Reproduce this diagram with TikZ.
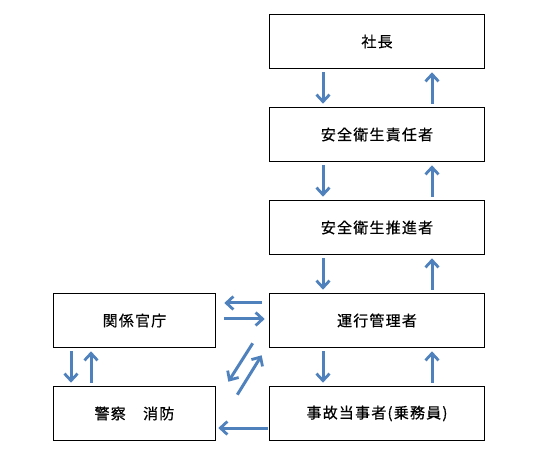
\documentclass[tikz,border=0pt]{standalone}
\usepackage{fontspec}
\newfontfamily\jp[LetterSpace=8,FakeBold=0.6]{Noto Sans CJK JP}
\usetikzlibrary{arrows.meta}
\definecolor{arrowblue}{HTML}{4F81BD}
\tikzset{
  box/.style={draw, line width=1.6pt, minimum width=215pt, minimum height=54pt,
    font=\jp\fontsize{15}{17}\selectfont, inner sep=0pt},
  smallbox/.style={box, minimum width=162pt},
  arr/.style={draw=arrowblue, line width=3pt,
    -{Straight Barb[length=7pt,width=13pt,line width=2.8pt]}}
}
\begin{document}
\begin{tikzpicture}[x=1pt,y=1pt]
      \useasboundingbox (0,0) rectangle (540,455);
      \draw
        (377,413.5) node[box] (shachou){社長}
        (377,320.5) node[box] (sekinin){安全衛生責任者}
        (377,227.5) node[box] (suishin){安全衛生推進者}
        (377,134.5) node[box] (unkou){運行管理者}
        (377,41.5) node[box] (jiko){事故当事者(乗務員)}
        (134.5,134.5) node[smallbox] (kankei){関係官庁}
        (134.5,41.5) node[smallbox] (keisatsu){警察　消防};
      \begin{scope}[arr, shorten <=3pt, shorten >=3pt]
        \draw ([xshift=-54pt]shachou.south) to ([xshift=-54pt]sekinin.north);
        \draw ([xshift=-54pt]sekinin.south) to ([xshift=-54pt]suishin.north);
        \draw ([xshift=-54pt]suishin.south) to ([xshift=-54pt]unkou.north);
        \draw ([xshift=-54pt]unkou.south) to ([xshift=-54pt]jiko.north);
        \draw ([xshift=55pt]sekinin.north) to ([xshift=55pt]shachou.south);
        \draw ([xshift=55pt]suishin.north) to ([xshift=55pt]sekinin.south);
        \draw ([xshift=55pt]unkou.north) to ([xshift=55pt]suishin.south);
        \draw ([xshift=55pt]jiko.north) to ([xshift=55pt]unkou.south);
        \draw ([xshift=-63.5pt]kankei.south) to ([xshift=-63.5pt]keisatsu.north);
        \draw ([xshift=-43.5pt]keisatsu.north) to ([xshift=-43.5pt]kankei.south);
      \end{scope}
      \begin{scope}[arr]
        \draw[shorten <=7pt, shorten >=8pt] ([yshift=17.5pt]unkou.west) to ([yshift=17.5pt]kankei.east);
        \draw[shorten <=8pt, shorten >=4pt] ([yshift=1.5pt]kankei.east) to ([yshift=1.5pt]unkou.west);
        \draw[shorten <=1pt, shorten >=2pt] ([yshift=-14.5pt]jiko.west) to ([yshift=-14.5pt]keisatsu.east);
        \draw ([shift={(-16,5)}]unkou.south west) to ([shift={(12,4)}]keisatsu.north east);
        \draw ([shift={(21,-9)}]keisatsu.north east) to ([shift={(-7,-7)}]unkou.south west);
      \end{scope}
    \end{tikzpicture}
\end{document}
